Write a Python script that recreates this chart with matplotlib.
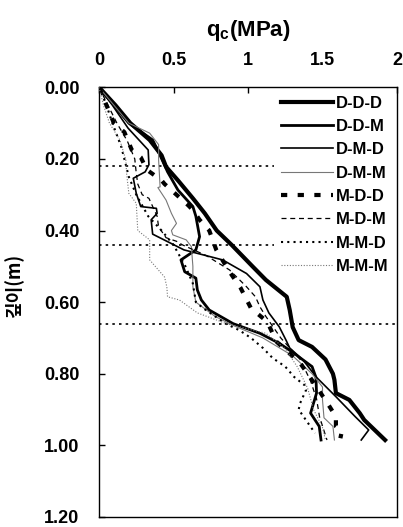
import matplotlib
matplotlib.use("Agg")
import matplotlib.pyplot as plt

plt.rcParams['font.family'] = ['Liberation Sans', 'Noto Sans CJK KR', 'DejaVu Sans']

# depth (m) and cone resistance qc (MPa), one pair per case
ddd_depth = [0, 0.05, 0.10, 0.147, 0.19, 0.222, 0.26, 0.31, 0.352, 0.40, 0.44, 0.50, 0.538, 0.585,
             0.622, 0.67, 0.706, 0.725, 0.76, 0.80, 0.817, 0.854, 0.873, 0.91, 0.929, 0.985]
ddd_qc = [0, 0.11, 0.21, 0.34, 0.42, 0.45, 0.53, 0.63, 0.71, 0.79, 0.89, 1.03, 1.12, 1.26,
          1.28, 1.30, 1.34, 1.43, 1.52, 1.57, 1.58, 1.59, 1.68, 1.75, 1.78, 1.92]

ddm_depth = [0, 0.05, 0.10, 0.147, 0.19, 0.236, 0.287, 0.333, 0.36, 0.417, 0.454, 0.482, 0.49, 0.515,
             0.533, 0.566, 0.594, 0.622, 0.66, 0.687, 0.715, 0.74, 0.78, 0.81, 0.854, 0.91, 0.947, 0.985]
ddm_qc = [0, 0.10, 0.20, 0.36, 0.41, 0.46, 0.53, 0.63, 0.65, 0.675, 0.65, 0.55, 0.556, 0.575,
          0.65, 0.66, 0.687, 0.74, 0.90, 1.08, 1.21, 1.30, 1.43, 1.456, 1.46, 1.42, 1.478, 1.49]

dmd_depth = [0, 0.05, 0.114, 0.175, 0.216, 0.236, 0.254, 0.296, 0.333, 0.338, 0.352, 0.37, 0.41, 0.454,
             0.482, 0.52, 0.557, 0.594, 0.63, 0.669, 0.706, 0.728, 0.762, 0.81, 0.864, 0.92, 0.957, 0.985]
dmd_qc = [0, 0.09, 0.195, 0.33, 0.335, 0.31, 0.23, 0.25, 0.28, 0.385, 0.39, 0.35, 0.36, 0.57,
          0.83, 0.99, 1.08, 1.10, 1.14, 1.21, 1.255, 1.28, 1.37, 1.46, 1.59, 1.72, 1.81, 1.76]

dmm_depth = [0, 0.05, 0.10, 0.128, 0.16, 0.203, 0.278, 0.28, 0.315, 0.352, 0.38, 0.40, 0.412, 0.426,
             0.445, 0.50, 0.557, 0.60, 0.64, 0.665, 0.70, 0.75, 0.80, 0.837, 0.873, 0.923, 0.947, 0.985]
dmm_qc = [0, 0.10, 0.20, 0.34, 0.40, 0.40, 0.41, 0.395, 0.45, 0.486, 0.52, 0.486, 0.495, 0.585,
          0.62, 0.63, 0.63, 0.65, 0.78, 0.90, 1.10, 1.30, 1.43, 1.50, 1.50, 1.51, 1.57, 1.58]

mdd_depth = [0, 0.04, 0.08, 0.10, 0.125, 0.175, 0.195, 0.23, 0.26, 0.27, 0.33, 0.343, 0.37, 0.40,
             0.454, 0.515, 0.56, 0.617, 0.655, 0.71, 0.77, 0.83, 0.89, 0.92, 0.947, 0.96, 0.98]
mdd_qc = [0, 0.04, 0.08, 0.10, 0.17, 0.22, 0.28, 0.32, 0.42, 0.44, 0.60, 0.63, 0.675, 0.74,
          0.787, 0.876, 0.95, 1.02, 1.13, 1.19, 1.35, 1.45, 1.545, 1.59, 1.59, 1.63, 1.62]

mdm_depth = [0, 0.05, 0.10, 0.15, 0.20, 0.24, 0.27, 0.30, 0.31, 0.36, 0.39, 0.42, 0.43, 0.44,
             0.47, 0.51, 0.557, 0.585, 0.613, 0.64, 0.70, 0.76, 0.82, 0.87, 0.92, 0.985]
mdm_qc = [0, 0.06, 0.12, 0.19, 0.24, 0.25, 0.26, 0.29, 0.335, 0.39, 0.40, 0.45, 0.52, 0.56,
          0.72, 0.876, 0.99, 1.05, 1.08, 1.12, 1.22, 1.35, 1.42, 1.46, 1.48, 1.53]

mmd_depth = [0, 0.05, 0.10, 0.167, 0.20, 0.25, 0.30, 0.36, 0.40, 0.44, 0.50, 0.548, 0.60, 0.617,
             0.66, 0.678, 0.70, 0.728, 0.756, 0.78, 0.809, 0.832, 0.845, 0.882, 0.90, 0.93, 0.966]
mmd_qc = [0, 0.05, 0.09, 0.15, 0.17, 0.20, 0.25, 0.33, 0.42, 0.50, 0.58, 0.63, 0.65, 0.70,
          0.85, 0.94, 1.02, 1.10, 1.165, 1.25, 1.31, 1.38, 1.39, 1.35, 1.34, 1.39, 1.45]

mmm_depth = [0, 0.05, 0.10, 0.147, 0.203, 0.24, 0.296, 0.324, 0.40, 0.426, 0.482, 0.53, 0.557, 0.585,
             0.594, 0.63, 0.66, 0.687, 0.73, 0.78, 0.84, 0.90, 0.95, 0.985]
mmm_qc = [0, 0.03, 0.07, 0.14, 0.18, 0.185, 0.20, 0.25, 0.26, 0.34, 0.34, 0.44, 0.455, 0.46,
          0.54, 0.66, 0.855, 1.12, 1.25, 1.33, 1.40, 1.44, 1.50, 1.52]

layer_depths = [0.22, 0.44, 0.66]

x_ticks = [0, 0.5, 1, 1.5, 2]
x_labels = ['0', '0.5', '1', '1.5', '2']
y_ticks = [0, 0.2, 0.4, 0.6, 0.8, 1.0, 1.2]
y_labels = ['0.00', '0.20', '0.40', '0.60', '0.80', '1.00', '1.20']

fig = plt.figure(figsize=(4.03, 5.27), dpi=100)
ax = fig.add_axes([0.2457, 0.019, 0.7394, 0.8153])

for d in layer_depths:
    ax.axhline(d, color='black', lw=1.2, linestyle=(0, (1.5, 2.5)), zorder=1)

ax.plot(ddd_qc, ddd_depth, color='black', lw=3.0, label='D-D-D', zorder=3)
ax.plot(ddm_qc, ddm_depth, color='black', lw=2.0, label='D-D-M', zorder=3)
ax.plot(dmd_qc, dmd_depth, color='black', lw=1.2, label='D-M-D', zorder=3)
ax.plot(dmm_qc, dmm_depth, color='#777777', lw=0.8, label='D-M-M', zorder=3)
ax.plot(mdd_qc, mdd_depth, color='black', lw=3.0, linestyle=(0, (1.5, 2.5)), label='M-D-D', zorder=3)
ax.plot(mdm_qc, mdm_depth, color='black', lw=0.9, linestyle=(0, (4, 3)), label='M-D-M', zorder=3)
ax.plot(mmd_qc, mmd_depth, color='black', lw=1.5, linestyle=(0, (1, 2)), label='M-M-D', zorder=3)
ax.plot(mmm_qc, mmm_depth, color='#777777', lw=0.8, linestyle=(0, (1, 1.5)), label='M-M-M', zorder=3)

ax.set_xlim(0, 2)
ax.set_ylim(1.2, 0)
ax.xaxis.tick_top()
ax.xaxis.set_label_position('top')
ax.set_xticks(x_ticks)
ax.set_xticklabels(x_labels, fontsize=13, fontweight='bold')
ax.set_yticks(y_ticks)
ax.set_yticklabels(y_labels, fontsize=13, fontweight='bold')
ax.tick_params(direction='in', length=4, width=1)
ax.tick_params(axis='x', pad=13)
ax.tick_params(axis='y', pad=14)
for s in ax.spines.values():
    s.set_linewidth(1.0)

ax.set_xlabel('q$_\\mathregular{c}$(MPa)', fontsize=16, fontweight='bold', labelpad=12)
ax.set_ylabel('깊이(m)', fontsize=13, fontweight='bold', family=['Noto Sans CJK KR', 'DejaVu Sans'])
ax.yaxis.set_label_coords(-0.25, 0.54)

# white box hides the layer lines behind the legend, data stays on top
leg = ax.legend(loc='upper right', bbox_to_anchor=(1, 1), prop={'size': 12, 'weight': 'bold'},
                frameon=True, facecolor='white', edgecolor='none', framealpha=1, handlelength=3.1,
                handletextpad=0.2, labelspacing=0.5, borderaxespad=0.05, borderpad=0.45)
leg.set_zorder(2)

fig.savefig('out.png', dpi=100)
